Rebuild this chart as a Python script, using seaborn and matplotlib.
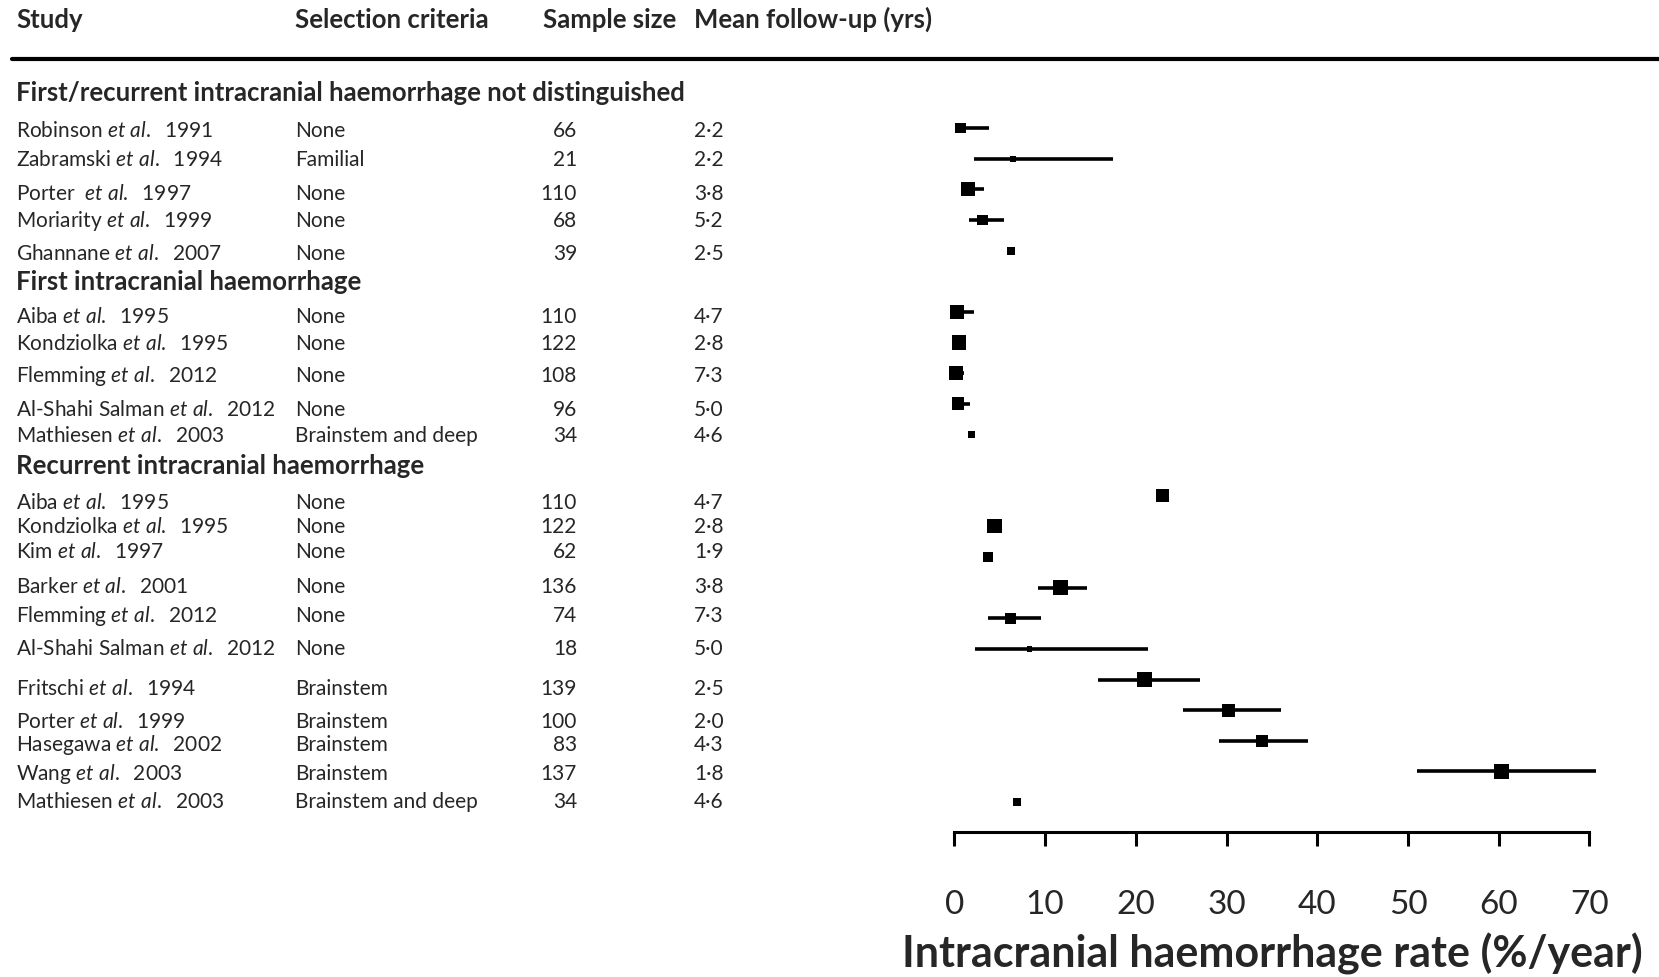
import numpy as np
import pandas as pd
import matplotlib
matplotlib.use("Agg")
import matplotlib.pyplot as plt
import matplotlib.transforms as mtransforms
from matplotlib.lines import Line2D
import seaborn as sns

# ---------------- data ----------------
headers = ["Study", "Selection criteria", "Sample size", "Mean follow-up (yrs)"]
group_titles = ["First/recurrent intracranial haemorrhage not distinguished",
                "First intracranial haemorrhage",
                "Recurrent intracranial haemorrhage"]

authors = ["Robinson", "Zabramski", "Porter ", "Moriarity", "Ghannane",
           "Aiba", "Kondziolka", "Flemming", "Al-Shahi Salman", "Mathiesen",
           "Aiba", "Kondziolka", "Kim", "Barker", "Flemming", "Al-Shahi Salman",
           "Fritschi", "Porter", "Hasegawa", "Wang", "Mathiesen"]
years = ["1991", "1994", "1997", "1999", "2007",
         "1995", "1995", "2012", "2012", "2003",
         "1995", "1995", "1997", "2001", "2012", "2012",
         "1994", "1999", "2002", "2003", "2003"]
criteria = ["None", "Familial", "None", "None", "None",
            "None", "None", "None", "None", "Brainstem and deep",
            "None", "None", "None", "None", "None", "None",
            "Brainstem", "Brainstem", "Brainstem", "Brainstem", "Brainstem and deep"]
sample_size = [66, 21, 110, 68, 39,
               110, 122, 108, 96, 34,
               110, 122, 62, 136, 74, 18,
               139, 100, 83, 137, 34]
follow_up = ["2·2", "2·2", "3·8", "5·2", "2·5",
             "4·7", "2·8", "7·3", "5·0", "4·6",
             "4·7", "2·8", "1·9", "3·8", "7·3", "5·0",
             "2·5", "2·0", "4·3", "1·8", "4·6"]
rate = [0.67, 6.44, 1.53, 3.08, 6.22,
        0.30, 0.52, 0.19, 0.41, 1.90,
        22.93, 4.41, 3.72, 11.66, 6.17, 8.3,
        20.95, 30.2, 33.9, 60.3, 6.87]
ci_low = [0.2, 2.12, 0.78, 1.63, np.nan,
          0.0, np.nan, 0.0, 0.1, np.nan,
          np.nan, np.nan, np.nan, 9.26, 3.66, 2.22,
          15.8, 25.2, 29.2, 51.0, np.nan]
ci_high = [3.77, 17.5, 3.23, 5.42, np.nan,
           2.12, np.nan, 1.10, 1.74, np.nan,
           np.nan, np.nan, np.nan, 14.6, 9.58, 21.3,
           27.1, 36.0, 39.0, 70.7, np.nan]
group_sizes = [5, 5, 11]
x_ticks = [0, 10, 20, 30, 40, 50, 60, 70]
x_label = "Intracranial haemorrhage rate (%/year)"

# ---------------- layout ----------------
W, H = 1659, 978
ROW0, ROWH = 129.0, 30.64          # px of first row centre and row pitch
def row_of_px(px):
    return (px - ROW0) / ROWH

rows = []
heading_rows = []
r = 0
for gi, n in enumerate(group_sizes):
    if gi > 0:
        heading_rows.append(r)
        r += 1
    rows.extend(range(r, r + n))
    r += n
text_center_px = [130.7, 159.3, 194, 220.7, 254,
                  316.7, 343.3, 375, 410, 435.7,
                  502.7, 526.7, 551.7, 586.7, 615, 648.3,
                  688.3, 721.7, 745, 773.3, 801.7]

df = pd.DataFrame({"row": rows, "rate": rate, "lo": ci_low, "hi": ci_high,
                   "n": sample_size})

sns.set_theme(style="white")
plt.rcParams["font.family"] = ["Lato", "DejaVu Sans"]
plt.rcParams["mathtext.fontset"] = "custom"
plt.rcParams["mathtext.rm"] = "Lato"
plt.rcParams["mathtext.it"] = "Lato:italic"

fig = plt.figure(figsize=(W / 100, H / 100), dpi=100)
x0, x70, yax = 954.4, 1589.4, 833.3
ax = fig.add_axes([x0 / W, 1 - yax / H, (x70 - x0) / W, yax / H])

# CI lines
ci = df.dropna(subset=["lo", "hi"])
ax.hlines(ci["row"], ci["lo"], ci["hi"], color="black", lw=2.6, zorder=1,
          clip_on=False)
# squares, side proportional to sqrt(sample size)
sizes = {n: (1.3 * np.sqrt(n) / (100 / 72)) ** 2 for n in set(sample_size)}
sns.scatterplot(data=df, x="rate", y="row", size="n", sizes=sizes, marker="s",
                color="black", linewidth=0, legend=False, ax=ax, zorder=2,
                clip_on=False)

ax.set_xlim(0, 70)
ax.set_ylim(row_of_px(yax), row_of_px(0))
ax.set_xticks(x_ticks)
ax.set_yticks([])
for s in ["left", "top", "right"]:
    ax.spines[s].set_visible(False)
ax.spines["bottom"].set_linewidth(2.2)
ax.spines["bottom"].set_color("black")
ax.tick_params(axis="x", direction="out", length=10, width=2.2, color="black",
               pad=31, labelsize=24, bottom=True)
ax.set_xlabel(x_label, fontsize=31, fontweight="bold", labelpad=9)
ax.set_ylabel("")

# ---------------- table text ----------------
tr = mtransforms.blended_transform_factory(fig.transFigure, ax.transData)
hdr_x = [16, 295, 543, 694]
for h, hx in zip(headers, hdr_x):
    ax.text(hx / W, row_of_px(28), h, transform=tr, fontsize=18.5,
            fontweight="bold", va="baseline", ha="left", clip_on=False)
fig.add_artist(Line2D([12 / W, 1.0], [1 - 59.5 / H, 1 - 59.5 / H],
                      color="black", lw=3.0, transform=fig.transFigure))

for gi, t in enumerate(group_titles):
    if gi == 0:
        yb = row_of_px(101)
    else:
        yb = heading_rows[gi - 1] + 0.27
    ax.text(16 / W, yb, t, transform=tr, fontsize=18.5, fontweight="bold",
            va="baseline", ha="left", clip_on=False)

for i in range(len(authors)):
    yb = row_of_px(text_center_px[i] + 6.5)
    label = authors[i] + " $\\mathit{et\\ al.}$  " + years[i]
    ax.text(16 / W, yb, label, transform=tr, fontsize=15, va="baseline",
            ha="left", clip_on=False)
    ax.text(295 / W, yb, criteria[i], transform=tr, fontsize=15,
            va="baseline", ha="left", clip_on=False)
    ax.text(577 / W, yb, str(sample_size[i]), transform=tr, fontsize=15,
            va="baseline", ha="right", clip_on=False)
    ax.text(694 / W, yb, follow_up[i], transform=tr, fontsize=15,
            va="baseline", ha="left", clip_on=False)

fig.savefig("out.png", dpi=100)
